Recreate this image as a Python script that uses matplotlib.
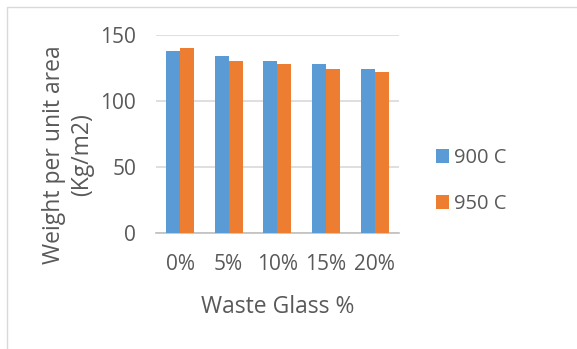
import matplotlib.pyplot as plt
import numpy as np

plt.rcParams["font.family"] = ["Open Sans", "DejaVu Sans"]

categories = ["0%", "5%", "10%", "15%", "20%"]
series_names = ["900 C", "950 C"]
weight_900 = [138, 134, 130, 128, 124]
weight_950 = [140, 130, 128, 124, 122]
y_ticks = [0, 50, 100, 150]

colors = ["#5B9BD5", "#ED7D31"]
text_color = "#595959"

fig = plt.figure(figsize=(5.77, 3.49), dpi=100)
ax = fig.add_axes([0.2698, 0.3333, 0.4217, 0.5664])

x = np.arange(len(categories))
w = 0.285
ax.bar(x - w / 2, weight_900, w, color=colors[0], label=series_names[0], zorder=3)
ax.bar(x + w / 2, weight_950, w, color=colors[1], label=series_names[1], zorder=3)

ax.set_xlim(-0.5, len(categories) - 0.5)
ax.set_ylim(0, 150)
ax.set_yticks(y_ticks)
ax.set_xticks(x)
ax.set_xticklabels(categories)
ax.yaxis.grid(True, color="#d9d9d9", linewidth=1.2, zorder=0)
ax.tick_params(length=0, labelsize=15, colors=text_color)
ax.tick_params(axis="y", pad=14)
ax.tick_params(axis="x", pad=15)

for side in ["top", "right", "left"]:
    ax.spines[side].set_visible(False)
ax.spines["bottom"].set_color("#bfbfbf")
ax.spines["bottom"].set_linewidth(1.2)

ax.set_xlabel("Waste Glass %", fontsize=16.5, color=text_color, labelpad=15)
ax.set_ylabel("Weight per unit area\n(Kg/m2)", fontsize=16.5, color=text_color,
              linespacing=1.2)
ax.yaxis.set_label_coords(-0.255, 0.393)

fig.legend(loc="center left", bbox_to_anchor=(418 / 577, 1 - 181 / 349),
           frameon=False, fontsize=14.5, labelcolor=text_color,
           handlelength=0.65, handleheight=0.65, handletextpad=0.25,
           labelspacing=1.3)

# light frame around the chart area
fig.patches.append(plt.Rectangle((7 / 577, -0.1), 1.2, 1 - 7 / 349 + 0.1,
                                 transform=fig.transFigure, fill=False,
                                 edgecolor="#d9d9d9", linewidth=1))

fig.savefig("out.png", dpi=100)
